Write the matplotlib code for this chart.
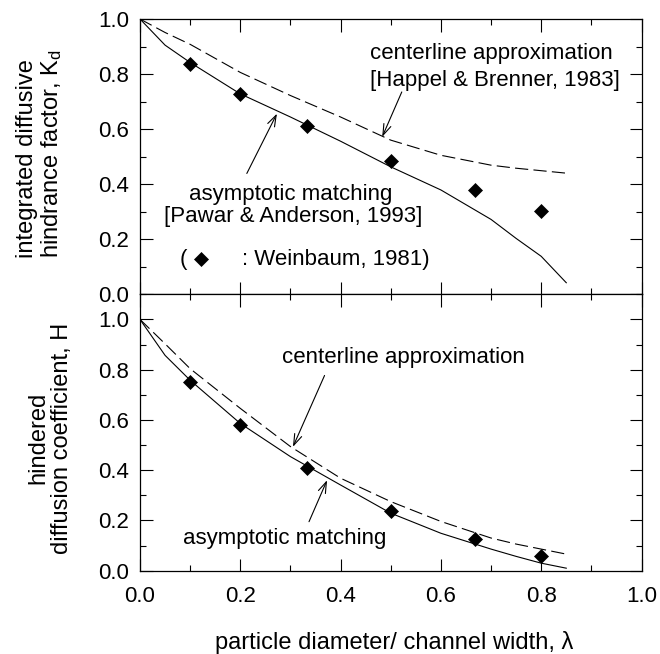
import numpy as np
import matplotlib
matplotlib.use('Agg')
import matplotlib.pyplot as plt
from matplotlib.ticker import MultipleLocator, FixedLocator

plt.rcParams['font.family'] = ['Liberation Sans', 'DejaVu Sans']
plt.rcParams['mathtext.default'] = 'regular'
plt.rcParams['lines.scale_dashes'] = False

# Weinbaum (1981) points
lam_pts = [0.1, 0.2, 0.333, 0.5, 0.667, 0.8]
kd_pts = [0.837, 0.729, 0.613, 0.485, 0.379, 0.302]
h_pts = [0.749, 0.579, 0.407, 0.239, 0.127, 0.060]

# curves
lam_curve = [0.0, 0.05, 0.1, 0.2, 0.3, 0.4, 0.5, 0.6, 0.7, 0.75, 0.8, 0.85]
kd_asym = [1.0, 0.905, 0.842, 0.728, 0.644, 0.556, 0.463, 0.379, 0.272, 0.203, 0.138, 0.042]
kd_center = [1.0, 0.951, 0.908, 0.806, 0.722, 0.644, 0.560, 0.505, 0.469, 0.458, 0.449, 0.440]
h_asym = [1.0, 0.857, 0.758, 0.586, 0.454, 0.341, 0.229, 0.149, 0.086, 0.057, 0.030, 0.010]
h_center = [1.0, 0.903, 0.804, 0.646, 0.494, 0.368, 0.275, 0.196, 0.130, 0.106, 0.086, 0.066]

W, H = 660, 654
fig = plt.figure(figsize=(W / 100, H / 100), dpi=100)

left = 140 / W
width = (641.5 - 140) / W
ax1 = fig.add_axes([left, 1 - 294.3 / H, width, (294.3 - 19) / H])
ax2 = fig.add_axes([left, 1 - 570.7 / H, width, (570.7 - 294.3) / H])

dash = (0, (9.5, 3.8))
lw = 0.8
afs = 16

for ax in (ax1, ax2):
    ax.set_xlim(0, 1.0)
    ax.xaxis.set_major_locator(MultipleLocator(0.2))
    ax.xaxis.set_minor_locator(MultipleLocator(0.1))
    ax.yaxis.set_major_locator(FixedLocator([0.0, 0.2, 0.4, 0.6, 0.8, 1.0]))
    ax.yaxis.set_minor_locator(MultipleLocator(0.1))
    ax.tick_params(which='both', direction='in', top=True, right=True,
                   width=0.8, labelsize=16)
    ax.tick_params(which='major', length=9)
    ax.tick_params(which='minor', length=4.3)
    ax.tick_params(axis='y', pad=8)
    ax.tick_params(axis='x', pad=11)
    ax.yaxis.set_major_formatter(matplotlib.ticker.FormatStrFormatter('%.1f'))
    ax.xaxis.set_major_formatter(matplotlib.ticker.FormatStrFormatter('%.1f'))
    for s in ax.spines.values():
        s.set_linewidth(0.9)

ax1.set_ylim(0, 1.0)
ax2.set_ylim(0, 1.1)
ax1.tick_params(labelbottom=False)

# top panel
ax1.plot(lam_curve, kd_asym, color='black', lw=lw)
ax1.plot(lam_curve, kd_center, color='black', lw=lw, linestyle=dash)
ax1.plot(lam_pts, kd_pts, linestyle='none', marker='D', ms=7,
         color='black', mew=0.5)

ax1.text(0.458, 0.873, 'centerline approximation', fontsize=afs, va='center', ha='left')
ax1.text(0.458, 0.777, '[Happel & Brenner, 1983]', fontsize=afs, va='center', ha='left')
ax1.text(0.2997, 0.361, 'asymptotic matching', fontsize=afs, va='center', ha='center')
ax1.text(0.305, 0.282, '[Pawar & Anderson, 1993]', fontsize=afs, va='center', ha='center')
ax1.text(0.0795, 0.128, '(', fontsize=afs, va='center', ha='left')
ax1.plot([0.121], [0.128], linestyle='none', marker='D', ms=7, color='black', mew=0.5)
ax1.text(0.2024, 0.128, ': Weinbaum, 1981)', fontsize=afs, va='center', ha='left')

arrow = dict(arrowstyle='->,head_length=0.5,head_width=0.17', lw=0.8,
             color='black', shrinkA=0, shrinkB=0)
ax1.annotate('', xy=(0.483, 0.572), xytext=(0.522, 0.735), arrowprops=arrow,
             fontsize=afs)
ax1.annotate('', xy=(0.273, 0.656), xytext=(0.213, 0.439), arrowprops=arrow,
             fontsize=afs)

# bottom panel
ax2.plot(lam_curve, h_asym, color='black', lw=lw)
ax2.plot(lam_curve, h_center, color='black', lw=lw, linestyle=dash)
ax2.plot(lam_pts, h_pts, linestyle='none', marker='D', ms=7,
         color='black', mew=0.5)

ax2.text(0.284, 0.848, 'centerline approximation', fontsize=afs, va='center', ha='left')
ax2.text(0.0866, 0.128, 'asymptotic matching', fontsize=afs, va='center', ha='left')
ax2.annotate('', xy=(0.305, 0.493), xytext=(0.368, 0.777), arrowprops=arrow,
             fontsize=afs)
ax2.annotate('', xy=(0.373, 0.360), xytext=(0.337, 0.195), arrowprops=arrow,
             fontsize=afs)

# axis labels
fig.text(0.0606, 0.7656, 'integrated diffusive\nhindrance factor, K$_d$',
         rotation=90, ha='center', va='center', multialignment='left',
         fontsize=17, linespacing=1.1)
fig.text(0.0758, 0.3303, 'hindered\ndiffusion coefficient, H',
         rotation=90, ha='center', va='center', multialignment='center',
         fontsize=17, linespacing=1.1)
fig.text(0.598, 1 - 649 / H, 'particle diameter/ channel width, λ',
         ha='center', va='baseline', fontsize=17)

fig.savefig('out.png', dpi=100)
